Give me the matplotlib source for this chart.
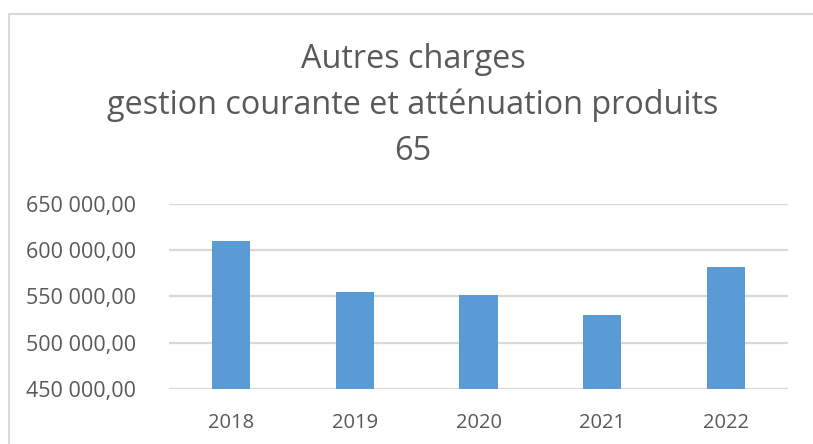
import matplotlib.pyplot as plt
from matplotlib.patches import Rectangle
from matplotlib.ticker import FuncFormatter

years = ['2018', '2019', '2020', '2021', '2022']
charges = [610000, 554700, 551500, 530000, 582000]
yticks = [450000, 500000, 550000, 600000, 650000]

txt = '#595959'
plt.rcParams['font.family'] = ['Open Sans', 'DejaVu Sans']

fig = plt.figure(figsize=(8.13, 4.44), dpi=100)
fig.patches.append(Rectangle((9 / 813, -0.1), 1.1, 1 - 14 / 444 + 0.1,
                             transform=fig.transFigure, fill=False,
                             edgecolor='#d9d9d9', linewidth=1.5))

ax = fig.add_axes([169 / 813, 1 - 389 / 444, 619 / 813, 185 / 444])
x = range(len(years))
ax.bar(x, charges, width=0.31, color='#5b9bd5', zorder=3)
ax.set_xlim(-0.5, len(years) - 0.5)
ax.set_ylim(450000, 650000)
ax.set_yticks(yticks)
ax.yaxis.set_major_formatter(FuncFormatter(lambda v, p: f'{v:,.2f}'.replace(',', ' ').replace('.', ',')))
ax.set_xticks(list(x))
ax.set_xticklabels(years)
ax.grid(axis='y', color='#d9d9d9', linewidth=1.6, zorder=0)
for s in ['top', 'right', 'left', 'bottom']:
    ax.spines[s].set_visible(False)
ax.tick_params(axis='y', length=0, pad=24, labelsize=15.5, labelcolor=txt)
ax.tick_params(axis='x', length=0, pad=17, labelsize=14.5, labelcolor=txt)

title = ['Autres charges', 'gestion courante et atténuation produits', '65']
for i, line in enumerate(title):
    fig.text(413 / 813, 1 - (68 + 46 * i) / 444, line, ha='center', va='baseline',
             fontsize=23.3, color=txt)

fig.savefig('out.png')
